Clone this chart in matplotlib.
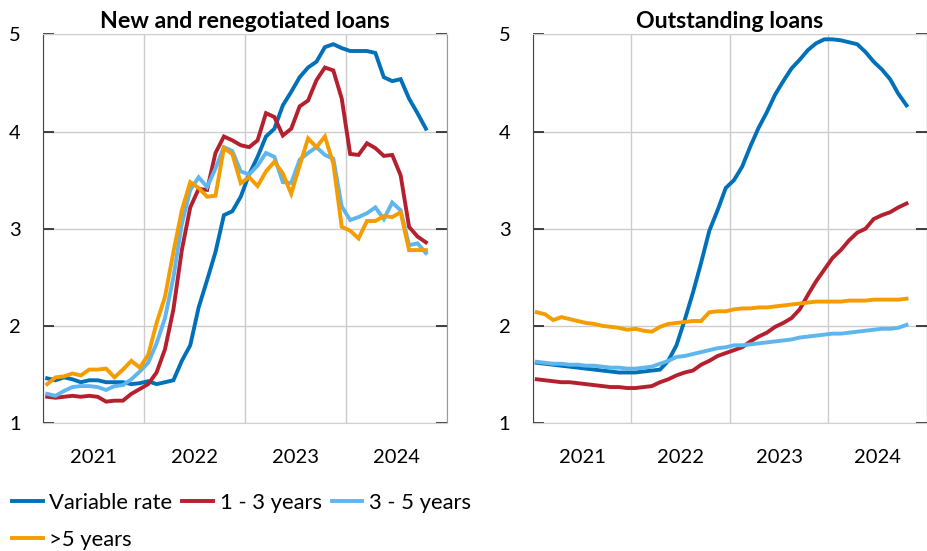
import numpy as np
import matplotlib
matplotlib.use("Agg")
import matplotlib.pyplot as plt

plt.rcParams["font.family"] = ["Lato", "DejaVu Sans"]

# Monthly observations, Jan 2021 - Oct 2024
years = ["2021", "2022", "2023", "2024"]

new_variable = [1.46, 1.44, 1.47, 1.45, 1.42, 1.44, 1.44, 1.42, 1.42, 1.42, 1.40, 1.41,
                1.43, 1.40, 1.42, 1.44, 1.64, 1.80, 2.19, 2.47, 2.76, 3.14, 3.18, 3.33,
                3.56, 3.74, 3.95, 4.03, 4.27, 4.41, 4.56, 4.66, 4.72, 4.87, 4.90, 4.86,
                4.83, 4.83, 4.83, 4.81, 4.56, 4.52, 4.54, 4.34, 4.19, 4.03]
new_1_3 = [1.27, 1.26, 1.27, 1.28, 1.27, 1.28, 1.27, 1.22, 1.23, 1.23, 1.30, 1.35,
           1.40, 1.52, 1.76, 2.17, 2.78, 3.22, 3.41, 3.40, 3.78, 3.95, 3.91, 3.86,
           3.84, 3.91, 4.19, 4.15, 3.96, 4.03, 4.26, 4.32, 4.53, 4.66, 4.63, 4.34,
           3.77, 3.76, 3.88, 3.83, 3.75, 3.76, 3.55, 3.02, 2.92, 2.86]
new_3_5 = [1.30, 1.28, 1.33, 1.37, 1.38, 1.38, 1.37, 1.34, 1.38, 1.39, 1.45, 1.53,
           1.62, 1.82, 2.08, 2.50, 3.05, 3.40, 3.53, 3.43, 3.62, 3.84, 3.80, 3.59,
           3.56, 3.65, 3.78, 3.74, 3.48, 3.47, 3.71, 3.78, 3.84, 3.76, 3.72, 3.23,
           3.09, 3.12, 3.16, 3.22, 3.10, 3.27, 3.19, 2.83, 2.85, 2.75]
new_5plus = [1.40, 1.47, 1.48, 1.51, 1.49, 1.55, 1.55, 1.56, 1.47, 1.55, 1.64, 1.57,
             1.70, 2.03, 2.30, 2.76, 3.19, 3.48, 3.42, 3.33, 3.34, 3.83, 3.77, 3.47,
             3.53, 3.44, 3.59, 3.69, 3.57, 3.36, 3.65, 3.93, 3.84, 3.95, 3.67, 3.02,
             2.98, 2.90, 3.08, 3.08, 3.13, 3.12, 3.17, 2.78, 2.78, 2.78]

out_variable = [1.62, 1.61, 1.60, 1.59, 1.58, 1.57, 1.56, 1.55, 1.54, 1.53, 1.52, 1.52,
                1.52, 1.53, 1.54, 1.55, 1.64, 1.80, 2.06, 2.34, 2.65, 2.98, 3.19, 3.42,
                3.50, 3.64, 3.85, 4.04, 4.20, 4.38, 4.52, 4.65, 4.74, 4.84, 4.91, 4.95,
                4.95, 4.94, 4.92, 4.90, 4.82, 4.72, 4.64, 4.54, 4.39, 4.27]
out_1_3 = [1.45, 1.44, 1.43, 1.42, 1.42, 1.41, 1.40, 1.39, 1.38, 1.37, 1.37, 1.36,
           1.36, 1.37, 1.38, 1.42, 1.45, 1.49, 1.52, 1.54, 1.60, 1.64, 1.69, 1.72,
           1.75, 1.78, 1.84, 1.89, 1.93, 1.99, 2.03, 2.08, 2.17, 2.32, 2.46, 2.58,
           2.70, 2.78, 2.88, 2.96, 3.00, 3.10, 3.14, 3.17, 3.22, 3.26]
out_3_5 = [1.63, 1.62, 1.61, 1.61, 1.60, 1.60, 1.59, 1.59, 1.58, 1.57, 1.57, 1.56,
           1.56, 1.57, 1.58, 1.61, 1.64, 1.68, 1.69, 1.71, 1.73, 1.75, 1.77, 1.78,
           1.80, 1.80, 1.81, 1.82, 1.83, 1.84, 1.85, 1.86, 1.88, 1.89, 1.90, 1.91,
           1.92, 1.92, 1.93, 1.94, 1.95, 1.96, 1.97, 1.97, 1.98, 2.01]
out_5plus = [2.14, 2.12, 2.06, 2.09, 2.07, 2.05, 2.03, 2.02, 2.00, 1.99, 1.98, 1.96,
             1.97, 1.95, 1.94, 1.99, 2.02, 2.03, 2.04, 2.05, 2.05, 2.14, 2.15, 2.15,
             2.17, 2.18, 2.18, 2.19, 2.19, 2.20, 2.21, 2.22, 2.23, 2.24, 2.25, 2.25,
             2.25, 2.25, 2.26, 2.26, 2.26, 2.27, 2.27, 2.27, 2.27, 2.28]

labels = ["Variable rate", "1 - 3 years", "3 - 5 years", ">5 years"]
colors = ["#0070b8", "#b5202e", "#5fb6ef", "#f59c00"]

x = np.arange(len(new_variable)) + 0.5

fig = plt.figure(figsize=(9.28, 5.51), dpi=100)
ax1 = fig.add_axes([0.0463, 0.2323, 0.4353, 0.7051])
ax2 = fig.add_axes([0.574, 0.2323, 0.425, 0.7051])

panels = [
    (ax1, "New and renegotiated loans", [new_variable, new_1_3, new_3_5, new_5plus], 48),
    (ax2, "Outstanding loans", [out_variable, out_1_3, out_3_5, out_5plus], 46.85),
]

for ax, title, series, xmax in panels:
    for vals, lab, col in zip(series, labels, colors):
        ax.plot(x, vals, color=col, lw=2.8, label=lab, solid_joinstyle="miter")
    ax.set_xlim(0, xmax)
    ax.set_ylim(1, 5)
    ax.set_yticks([1, 2, 3, 4, 5])
    ax.set_xticks([0, 12, 24, 36, 48])
    ax.set_xticklabels([])
    ax.set_xticks([6, 18, 30, 42], minor=True)
    ax.set_xticklabels(years, minor=True)
    ax.tick_params(axis="x", which="both", length=0, pad=19, labelsize=14.5)
    ax.tick_params(axis="y", direction="in", length=8, width=1.2, color="#222222",
                   left=True, right=True, labelsize=14.5, pad=16)
    ax.grid(True, which="major", color="#cccccc", lw=1)
    ax.set_axisbelow(True)
    ax.spines["left"].set_color("#444444")
    ax.spines["right"].set_color("#999999")
    ax.spines["top"].set_color("#d0d0d0")
    ax.spines["bottom"].set_color("#d0d0d0")
    ax.set_title(title, fontsize=16.7, fontweight="bold", pad=5)

handles, _ = ax1.get_legend_handles_labels()
order = [0, 3, 1, 2]
fig.legend([handles[i] for i in order], [labels[i] for i in order],
           loc="upper left", bbox_to_anchor=(0.013, 0.105), ncol=3, frameon=False,
           fontsize=15.8, handlelength=1.4, handletextpad=0.3, columnspacing=0.45,
           labelspacing=0.76, borderaxespad=0, borderpad=0)

fig.savefig("out.png", dpi=100)
